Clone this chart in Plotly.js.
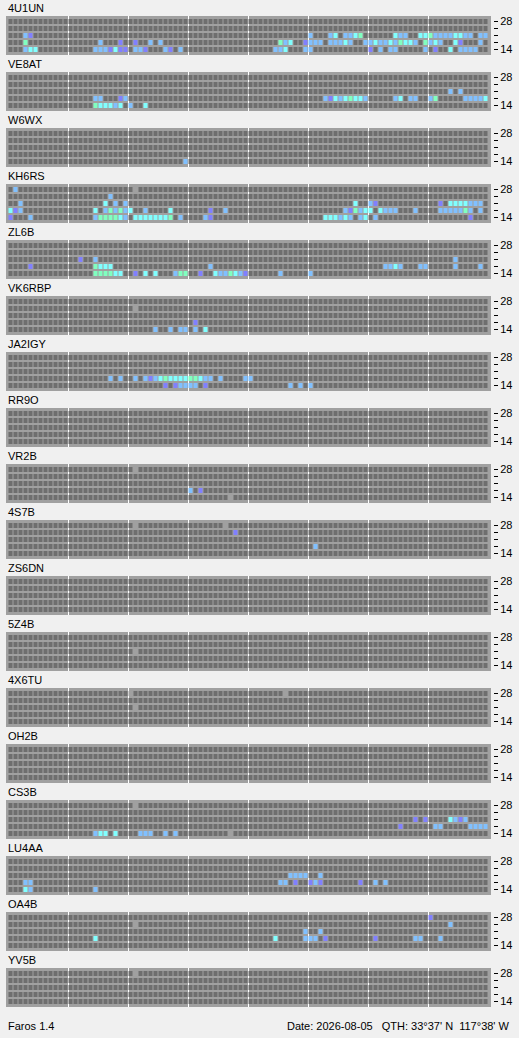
<!DOCTYPE html>
<html>
<head>
<meta charset="utf-8">
<script src="https://cdn.plot.ly/plotly-3.0.1.min.js"></script>
<style>
html, body { margin: 0; padding: 0; background: #f0f0f0; }
#chart { width: 519px; height: 1038px; }
</style>
</head>
<body>
<div id="chart"></div>
<script>
// ---------------- DATA ----------------
const stations = ["4U1UN","VE8AT","W6WX","KH6RS","ZL6B","VK6RBP","JA2IGY","RR9O","VR2B",
                  "4S7B","ZS6DN","5Z4B","4X6TU","OH2B","CS3B","LU4AA","OA4B","YV5B"];
const bands = [14, 18, 21, 24, 28];                 // MHz, bottom to top
const bandTickText = ["14", "", "", "", "28"];
const slotCount = 96;                                // 15-minute slots over 24 h
const slotsPerSection = 12;                          // white divider every 3 h
// level codes: g = heard (gray), p = weak, b = fair, c = good, m = strong
const levelCodes = { g: 1, p: 2, b: 3, c: 4, m: 5 };
const levelColors = ["#6e6e6e", "#a0a0a0", "#8080ff", "#80c0ff", "#80ffff", "#80ffc0"];

// each station: one string per band (14, 18, 21, 24, 28); tokens are slot + level code
const rx4U1UN = [
  "3b 4c 5c 17b 18b 19b 20p 21c 22p 23p 25b 26b 27p 31b 32p 34b 53b 54b 55c 59b 60b 72p 74b 76b 77b 83b 85p 88c 90b 91b 92b 93b",
  "3m 18b 22p 25p 28b 30b 54m 55b 56c 59p 60b 61b 62b 64b 65b 66b 67c 68b 71b 72b 73c 74b 75b 76c 77b 78m 79c 80c 81b 83m 84b 85c 86b 89c 90p 94b",
  "3b 4p 60b 64b 65c 67b 68b 69c 70m 77c 78b 79b 82c 83c 84m 85b 86b 87b 88b 89c 90c 91b 92b 94b 95b",
  "",
  ""
];
const rxVE8AT = [
  "17m 18c 19c 20c 21b 22c 24b 27c",
  "17b 18b 22p 23b 63b 64p 65c 66b 67c 68m 69c 70c 71b 77b 78c 80b 81b 84b 85m 91b 92b 93b 94b 95c",
  "88b 90b",
  "",
  ""
];
const rxW6WX = ["35b", "", "", "", ""];
const rxKH6RS = [
  "0p 4b 17b 18m 19m 20m 21m 22c 23b 25c 26c 27c 28c 29c 30c 31c 32m 34b 39b 40p 63c 64c 65c 66b 67c 68b 70b 71c 73b 92p",
  "0c 1p 2b 17c 19b 20m 21b 22m 23b 24c 27b 32c 40p 43b 67b 68p 69m 70b 71c 72c 74c 75b 76b 77b 81b 86b 87b 88b 89b 90b 91m 92b 94b",
  "2b 19c 21b 23b 69c 72b 73p 86p 88c 89c 90c 91c 92b 93b 94b",
  "20b",
  "1b 25g"
];
const rxZL6B = [
  "17m 18m 19m 20m 21c 22c 25p 27c 29c 33b 34m 35m 38p 41c 42b 43b 44m 45c 46b 47p 54b 60b",
  "4p 17m 18c 19c 20c 40b 75b 76b 77c 78b 82b 83b 89b 94b",
  "14p 17b 89b",
  "",
  ""
];
const rxVK6RBP = ["29b 32b 34b 35b 37b 39c", "37p", "", "25g", ""];
const rxJA2IGY = [
  "31p 33p 34b 35b 36b 37b 39p 56b 58b 60b",
  "20b 22b 25b 27b 28p 29b 30c 31m 32c 33c 34c 35c 36m 37m 38c 39b 40b 42b 47b 48b",
  "", "", ""
];
const rxRR9O = ["", "", "", "", ""];
const rxVR2B = ["44g", "36b 38p", "", "", "25g"];
const rx4S7B = ["", "61b", "", "45p", "25g 43g"];
const rxZS6DN = ["", "", "", "", ""];
const rx5Z4B = ["", "", "25g", "", ""];
const rx4X6TU = ["", "", "25g", "", "24g 55g"];
const rxOH2B = ["", "", "", "", ""];
const rxCS3B = [
  "17b 18c 19c 21c 26b 27b 28b 31b 33b 44g",
  "78p 85b 86b 92b 93b 94b 95b",
  "81p 83p 88c 89b 90p 91b",
  "",
  "25g"
];
const rxLU4AA = [
  "3c 4b 17b",
  "3b 4b 54b 55b 57p 60p 61b 62p 70p 73b 75b",
  "56b 57b 58b 59b 62b",
  "", ""
];
const rxOA4B = [
  "",
  "17c 53c 59b 60b 61b 63p 73p 81b 82b 86b",
  "59b 62b",
  "25g 88b",
  "84p"
];
const rxYV5B = ["", "", "", "", "25g"];

const reception = [rx4U1UN, rxVE8AT, rxW6WX, rxKH6RS, rxZL6B, rxVK6RBP, rxJA2IGY, rxRR9O, rxVR2B,
                   rx4S7B, rxZS6DN, rx5Z4B, rx4X6TU, rxOH2B, rxCS3B, rxLU4AA, rxOA4B, rxYV5B];

const footerLeft = "Faros 1.4";
const footerRight = "Date: 2026-08-05   QTH: 33°37' N  117°38' W";

// ---------------- BUILD ----------------
const W = 519, H = 1038;
const FONT = "Liberation Sans, Arial, sans-serif";
const gridLeft = 6, gridRight = 491;
const panelTop0 = 16, panelPitch = 56, panelHeight = 39;
const rowPad = 2 / 7;

const slots = Array.from({ length: slotCount }, (_, i) => i);
const rowsIdx = bands.map((_, i) => i);
const dividerVals = [];
for (let s = slotsPerSection; s < slotCount; s += slotsPerSection) dividerVals.push(s - 0.5);

const nLevels = levelColors.length;
const colorscale = [];
levelColors.forEach((c, i) => {
  const lo = Math.max(0, (i - 0.5) / (nLevels - 1));
  const hi = Math.min(1, (i + 0.5) / (nLevels - 1));
  colorscale.push([lo, c]);
  colorscale.push([hi, c]);
});

function buildZ(rx) {
  return rx.map(str => {
    const row = new Array(slotCount).fill(0);
    str.split(/\s+/).filter(Boolean).forEach(tok => {
      const m = tok.match(/^(\d+)([a-z])$/);
      if (m) row[+m[1]] = levelCodes[m[2]];
    });
    return row;
  });
}

const data = [];
const layout = {
  width: W, height: H,
  margin: { l: 0, r: 0, t: 0, b: 0, pad: 0 },
  paper_bgcolor: "#f0f0f0",
  plot_bgcolor: "#a0a0a0",
  showlegend: false,
  font: { family: FONT, size: 11, color: "#000" },
  annotations: []
};

stations.forEach((name, k) => {
  const sfx = k === 0 ? "" : String(k + 1);
  const top = panelTop0 + panelPitch * k;
  const bottom = top + panelHeight;
  data.push({
    type: "heatmap",
    x: slots, y: rowsIdx, z: buildZ(reception[k]),
    zmin: 0, zmax: nLevels - 1,
    colorscale: colorscale,
    showscale: false,
    xgap: 1, ygap: 2,
    hoverinfo: "skip",
    xaxis: "x" + sfx, yaxis: "y" + sfx
  });
  layout["xaxis" + sfx] = {
    domain: [gridLeft / W, gridRight / W],
    range: [-1, slotCount],
    anchor: "y" + sfx,
    tickmode: "array", tickvals: dividerVals,
    showgrid: true, gridcolor: "#ffffff", gridwidth: 1,
    showticklabels: false, ticks: "", zeroline: false, showline: false,
    fixedrange: true
  };
  layout["yaxis" + sfx] = {
    domain: [1 - bottom / H, 1 - top / H],
    range: [-0.5 - rowPad, bands.length - 0.5 + rowPad],
    anchor: "free", position: 493 / W, side: "right",
    tickmode: "array", tickvals: rowsIdx, ticktext: bandTickText,
    ticks: "outside", ticklen: 4, tickwidth: 1, tickcolor: "#000",
    tickfont: { family: FONT, size: 11, color: "#000" },
    showgrid: false, zeroline: false, showline: false,
    fixedrange: true
  };
  layout.annotations.push({
    xref: "paper", yref: "paper",
    x: gridLeft / W, y: 1 - (top - 8) / H,
    xanchor: "left", yanchor: "middle",
    text: name, showarrow: false,
    font: { family: FONT, size: 11, color: "#000" }
  });
});

layout.annotations.push({
  xref: "paper", yref: "paper", x: 6 / W, y: 1 - 1026 / H,
  xanchor: "left", yanchor: "middle", text: footerLeft, showarrow: false,
  font: { family: FONT, size: 11, color: "#000" }
});
layout.annotations.push({
  xref: "paper", yref: "paper", x: 512 / W, y: 1 - 1026 / H,
  xanchor: "right", yanchor: "middle", text: footerRight, showarrow: false,
  font: { family: FONT, size: 11, color: "#000" }
});

Plotly.newPlot("chart", data, layout, { staticPlot: true, displayModeBar: false });
</script>
</body>
</html>
